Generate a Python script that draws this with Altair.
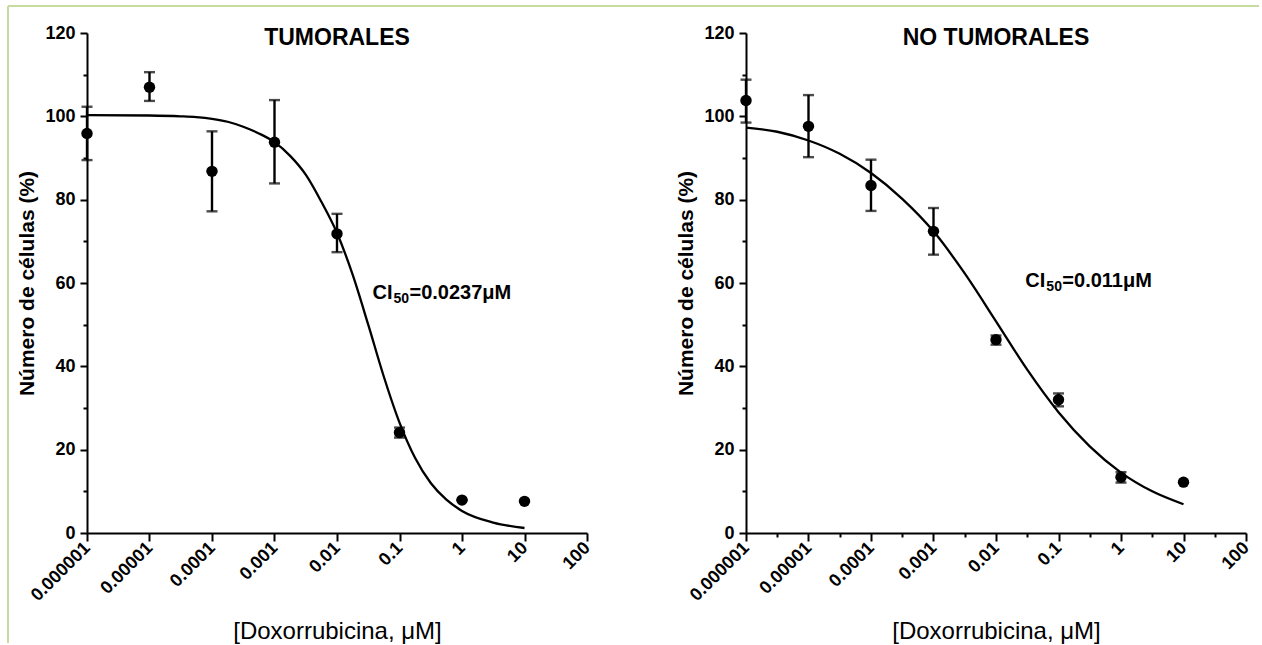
import altair as alt
import pandas as pd

# ---------------- data ----------------
dose = [0.000001, 0.00001, 0.0001, 0.001, 0.01, 0.1, 1, 10]

tum_mean = [95.9, 107.0, 86.8, 93.8, 71.8, 24.1, 7.9, 7.6]
tum_lo = [89.5, 103.7, 77.2, 83.9, 67.4, 22.9, 7.9, 7.6]
tum_hi = [102.3, 110.6, 96.4, 103.9, 76.6, 25.3, 7.9, 7.6]

nt_mean = [103.8, 97.6, 83.4, 72.4, 46.4, 32.0, 13.4, 12.2]
nt_lo = [98.5, 90.2, 77.3, 66.8, 45.2, 30.4, 12.1, 12.2]
nt_hi = [108.8, 105.1, 89.6, 78.0, 47.4, 33.5, 14.6, 12.2]

# fitted curves
tum_curve_x = [1e-6, 1e-5, 3.16e-5, 5.62e-5, 1e-4, 1.78e-4, 3.16e-4, 5.62e-4, 1e-3,
               1.78e-3, 3.16e-3, 5.62e-3, 1e-2, 1.78e-2, 3.16e-2, 5.62e-2, 1e-1,
               1.78e-1, 3.16e-1, 5.62e-1, 1, 3.16, 10]
tum_curve_y = [100.3, 100.2, 100.0, 99.8, 99.4, 98.7, 97.5, 95.9, 93.8,
               90.5, 86.0, 79.5, 72.0, 62.0, 50.0, 37.5, 26.5,
               18.0, 12.0, 8.0, 5.3, 2.5, 1.2]

nt_curve_x = [1e-6, 3.16e-6, 1e-5, 3.16e-5, 1e-4, 3.16e-4, 1e-3, 3.16e-3, 1e-2,
              3.16e-2, 1e-1, 3.16e-1, 1, 3.16, 10]
nt_curve_y = [97.3, 96.3, 94.2, 91.0, 86.4, 80.2, 72.4, 62.3, 50.8,
              39.2, 29.0, 20.8, 14.5, 10.0, 6.9]

x_major = [0.000001, 0.00001, 0.0001, 0.001, 0.01, 0.1, 1, 10, 100]
x_labels = ["0.000001", "0.00001", "0.0001", "0.001", "0.01", "0.1", "1", "10", "100"]
x_minor = [3.16e-6, 3.16e-5, 3.16e-4, 3.16e-3, 3.16e-2, 3.16e-1, 3.16, 31.6]
y_ticks = [0, 10, 20, 30, 40, 50, 60, 70, 80, 90, 100, 110, 120]

titles = ["TUMORALES", "NO TUMORALES"]
ci_values = ["=0.0237\u03bcM", "=0.011\u03bcM"]
ci_pos = [(0.037, 57.5), (0.0295, 60.5)]

FONT = "Liberation Sans, Arial, sans-serif"
GREEN = "#c6db9e"


def x_label_expr():
    expr = "''"
    for v, lab in reversed(list(zip(x_major, x_labels))):
        expr = f"abs(datum.value/{v!r} - 1) < 0.001 ? '{lab}' : ({expr})"
    return expr


MAJOR_X_TEST = "abs(log(datum.value)/LN10 - round(log(datum.value)/LN10)) < 0.01"


def panel(idx, means, lows, highs, cx, cy, minor_x, border):
    df = pd.DataFrame({"dose": dose, "mean": means, "lo": lows, "hi": highs})
    cdf = pd.DataFrame({"dose": cx, "pct": cy})
    xvals = x_major + (x_minor if minor_x else [])
    xscale = alt.Scale(type="log", domain=[1e-6, 100], nice=False)
    yscale = alt.Scale(domain=[0, 120], nice=False, zero=False)
    xaxis = alt.Axis(
        values=xvals, labelExpr=x_label_expr(), labelAngle=315, labelAlign="right",
        labelBaseline="middle", labelFont=FONT, labelFontSize=18, labelFontWeight="bold",
        labelColor="black", labelPadding=4, labelOverlap=False, labelFlush=False,
        tickSize={"condition": {"test": MAJOR_X_TEST, "value": 8}, "value": 4},
        tickWidth=2, tickColor="black", domainColor="black", domainWidth=2, grid=False,
        title="[Doxorrubicina, \u03bcM]", titleFont=FONT, titleFontSize=24,
        titleFontWeight="normal", titleColor="black", titlePadding=15)
    yaxis = alt.Axis(
        values=y_ticks, labelExpr="datum.value % 20 == 0 ? datum.label : ''",
        labelFont=FONT, labelFontSize=18, labelFontWeight="bold", labelColor="black",
        labelPadding=5, labelOverlap=False, labelFlush=False,
        tickSize={"condition": {"test": "datum.value % 20 == 0", "value": 7}, "value": 4},
        tickWidth=2, tickColor="black", domainColor="black", domainWidth=2, grid=False,
        title="Número de células (%)", titleFont=FONT, titleFontSize=21,
        titleFontWeight="bold", titleColor="black", titlePadding=7)

    curve = alt.Chart(cdf).mark_line(color="black", strokeWidth=2.3, interpolate="monotone").encode(
        x=alt.X("dose:Q", scale=xscale, axis=xaxis),
        y=alt.Y("pct:Q", scale=yscale, axis=yaxis))
    bars = alt.Chart(df).mark_rule(color="black", strokeWidth=2.4).encode(
        x="dose:Q", y="lo:Q", y2="hi:Q")
    cap_lo = alt.Chart(df).mark_tick(color="black", orient="horizontal", size=11, thickness=2.4).encode(
        x="dose:Q", y="lo:Q")
    cap_hi = alt.Chart(df).mark_tick(color="black", orient="horizontal", size=11, thickness=2.4).encode(
        x="dose:Q", y="hi:Q")
    pts = alt.Chart(df).mark_circle(size=130, color="black", opacity=1).encode(
        x="dose:Q", y="mean:Q")

    tdf = pd.DataFrame({"t": [titles[idx]]})
    title = alt.Chart(tdf).mark_text(font=FONT, fontSize=23, fontWeight="bold", color="black",
                                     align="center", baseline="middle").encode(
        text="t:N", x=alt.value(250), y=alt.value(5))

    cx_, cy_ = ci_pos[idx]
    adf = pd.DataFrame({"dose": [cx_], "pct": [cy_], "a": ["CI"], "b": ["50"], "c": [ci_values[idx]]})
    ci_a = alt.Chart(adf).mark_text(font=FONT, fontSize=20, fontWeight="bold", color="black",
                                    align="left", baseline="middle").encode(
        x="dose:Q", y="pct:Q", text="a:N")
    ci_b = alt.Chart(adf).mark_text(font=FONT, fontSize=14, fontWeight="bold", color="black",
                                    align="left", baseline="middle", dx=21, dy=6).encode(
        x="dose:Q", y="pct:Q", text="b:N")
    ci_c = alt.Chart(adf).mark_text(font=FONT, fontSize=20, fontWeight="bold", color="black",
                                    align="left", baseline="middle", dx=37).encode(
        x="dose:Q", y="pct:Q", text="c:N")

    layers = [curve, bars, cap_lo, cap_hi, pts, title, ci_a, ci_b, ci_c]
    if border:
        bdf = pd.DataFrame({"k": [0]})
        vline = alt.Chart(bdf).mark_rule(color=GREEN, strokeWidth=2).encode(
            x=alt.value(-79), y=alt.value(-27), y2=alt.value(610))
        hline = alt.Chart(bdf).mark_rule(color=GREEN, strokeWidth=2).encode(
            x=alt.value(-79), x2=alt.value(1172), y=alt.value(-27))
        layers += [vline, hline]
    return alt.layer(*layers).properties(width=500, height=500)


left = panel(0, tum_mean, tum_lo, tum_hi, tum_curve_x, tum_curve_y, False, True)
right = panel(1, nt_mean, nt_lo, nt_hi, nt_curve_x, nt_curve_y, True, False)

chart = alt.hconcat(left, right, spacing=159, bounds="flush").properties(
    padding={"left": 7, "top": 5, "right": 0, "bottom": 0}
).configure_view(stroke=None)

chart.save("out.html", embed_options={"renderer": "svg", "actions": False})
